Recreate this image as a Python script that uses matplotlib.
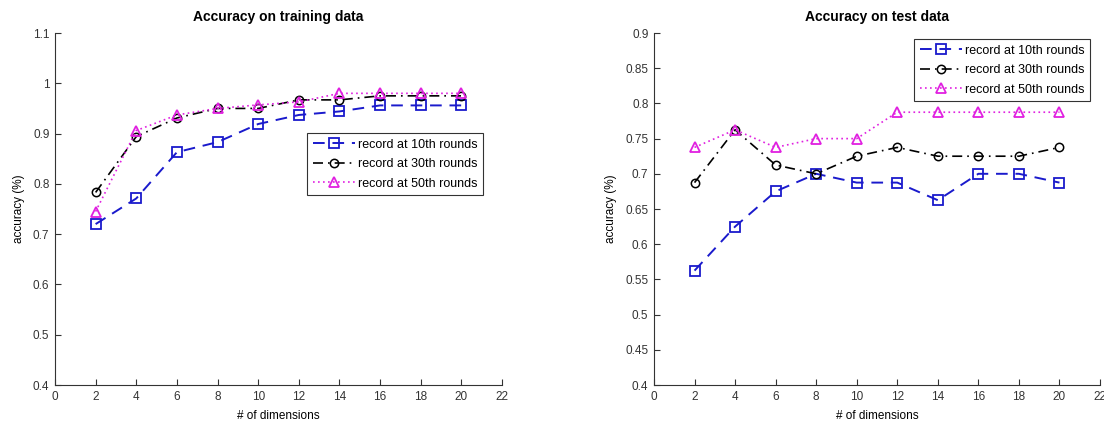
import matplotlib
matplotlib.use("Agg")
import matplotlib.pyplot as plt

plt.rcParams['font.family'] = ['Liberation Sans', 'DejaVu Sans']

dims = [2, 4, 6, 8, 10, 12, 14, 16, 18, 20]
labels = ['record at 10th rounds', 'record at 30th rounds', 'record at 50th rounds']

train_10 = [0.720, 0.771, 0.863, 0.883, 0.919, 0.937, 0.944, 0.956, 0.956, 0.956]
train_30 = [0.783, 0.894, 0.931, 0.950, 0.950, 0.967, 0.967, 0.975, 0.975, 0.975]
train_50 = [0.745, 0.906, 0.937, 0.950, 0.957, 0.963, 0.980, 0.980, 0.980, 0.980]

test_10 = [0.5625, 0.625, 0.675, 0.700, 0.6875, 0.6875, 0.6625, 0.700, 0.700, 0.6875]
test_30 = [0.6875, 0.7625, 0.7125, 0.700, 0.725, 0.7375, 0.725, 0.725, 0.725, 0.7375]
test_50 = [0.7375, 0.7625, 0.7375, 0.750, 0.750, 0.7875, 0.7875, 0.7875, 0.7875, 0.7875]

train_yticks = [0.4, 0.5, 0.6, 0.7, 0.8, 0.9, 1.0, 1.1]
train_ylabels = ['0.4', '0.5', '0.6', '0.7', '0.8', '0.9', '1', '1.1']
test_yticks = [0.4, 0.45, 0.5, 0.55, 0.6, 0.65, 0.7, 0.75, 0.8, 0.85, 0.9]
test_ylabels = ['0.4', '0.45', '0.5', '0.55', '0.6', '0.65', '0.7', '0.75', '0.8', '0.85', '0.9']
xticks = [0, 2, 4, 6, 8, 10, 12, 14, 16, 18, 20, 22]

fig = plt.figure(figsize=(11.04, 4.23), dpi=100)
ax1 = fig.add_axes([55/1104, 38/423, 447/1104, 352/423])
ax2 = fig.add_axes([654/1104, 38/423, 446/1104, 352/423])

styles = [
    dict(color='#1a1acc', linestyle=(0, (6, 4)), marker='s', markersize=7, markerfacecolor='none', markeredgewidth=1.3, linewidth=1.4),
    dict(color='black', linestyle=(0, (6, 3, 1, 3)), marker='o', markersize=6, markerfacecolor='none', markeredgewidth=1.1, linewidth=1.2),
    dict(color='#e020e0', linestyle=(0, (1, 2)), marker='^', markersize=7, markerfacecolor='none', markeredgewidth=1.3, linewidth=1.2),
]

def setup(ax, title, yticks, ylabels, ylim, datas, anchor):
    for d, s, lab in zip(datas, styles, labels):
        ax.plot(dims, d, label=lab, **s)
    ax.set_xlim(0, 22)
    ax.set_ylim(*ylim)
    ax.set_xticks(xticks)
    ax.set_xticklabels([str(x) for x in xticks])
    ax.set_yticks(yticks)
    ax.set_yticklabels(ylabels)
    ax.tick_params(direction='in', length=4, labelsize=8.5, colors='#333333', pad=4)
    ax.spines['top'].set_visible(False)
    ax.spines['right'].set_visible(False)
    for sp in ['left', 'bottom']:
        ax.spines[sp].set_color('#333333')
    ax.set_title(title, fontsize=10, fontweight='bold', pad=9)
    ax.set_xlabel('# of dimensions', fontsize=8.5, labelpad=5)
    ax.set_ylabel('accuracy (%)', fontsize=8.5, labelpad=6)
    leg = ax.legend(loc='upper right', bbox_to_anchor=anchor, borderaxespad=0,
                    fontsize=9, frameon=True, fancybox=False, handlelength=3.4,
                    handletextpad=0.2, labelspacing=0.6, borderpad=0.45)
    leg.get_frame().set_edgecolor('black')
    leg.get_frame().set_linewidth(0.8)

setup(ax1, 'Accuracy on training data', train_yticks, train_ylabels, (0.4, 1.1),
      [train_10, train_30, train_50], (0.957, 0.716))
setup(ax2, 'Accuracy on test data', test_yticks, test_ylabels, (0.4, 0.9),
      [test_10, test_30, test_50], (0.978, 0.983))

fig.savefig('out.png', dpi=100)
